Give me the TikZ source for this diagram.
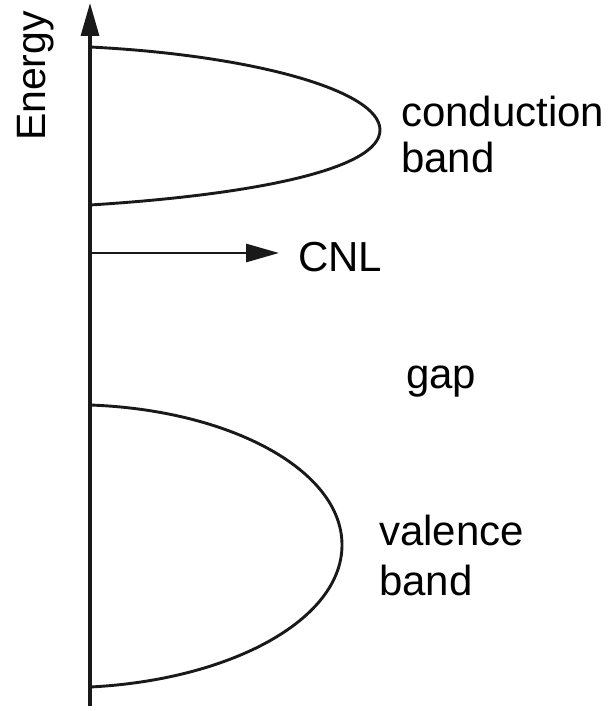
\documentclass[tikz,border=0pt]{standalone}
\usepackage{fontspec}
\setmainfont{Liberation Sans}
\usetikzlibrary{arrows.meta}
\begin{document}
\begin{tikzpicture}[x=1pt,y=-1pt,
  axisline/.style={line width=3.2pt, draw=black!90},
  bandcurve/.style={line width=2.9pt, draw=black!90},
  tip/.style={-{Triangle[length=33pt,width=18pt]}},
  lbl/.style={inner sep=0pt, anchor=base west, font=\fontsize{42}{46}\selectfont}]
\useasboundingbox (0,0) rectangle (615,711);
% axis
\coordinate (axbot) at (90,706);
\coordinate (axtop) at (90,3);
\draw[axisline, tip] (axbot) -- (axtop);
% energy label
\node[inner sep=0pt, rotate=90, anchor=base, font=\fontsize{41}{46}\selectfont] (energy) at (45,76) {Energy};
% conduction band
\draw[bandcurve] (90,47) .. controls (250,55) and (380,90) .. (380,130)
  .. controls (380,170) and (250,195) .. (90,205);
% valence band
\draw[bandcurve] (90,405) .. controls (230,410) and (342,470) .. (342,545)
  .. controls (342,620) and (230,680) .. (90,687);
% CNL arrow
\coordinate (cnlstart) at (90,253);
\coordinate (cnlend) at (279,253);
\draw[bandcurve, tip] (cnlstart) -- (cnlend);
\node[lbl] (cnl) at (298,271) {CNL};
% labels
\node[lbl] (cond) at (401,127) {conduction};
\node[lbl] (condb) at (401,173) {band};
\node[lbl] (gap) at (406,388) {gap};
\node[lbl] (val) at (379,545) {valence};
\node[lbl] (valb) at (379,595) {band};
\end{tikzpicture}
\end{document}
